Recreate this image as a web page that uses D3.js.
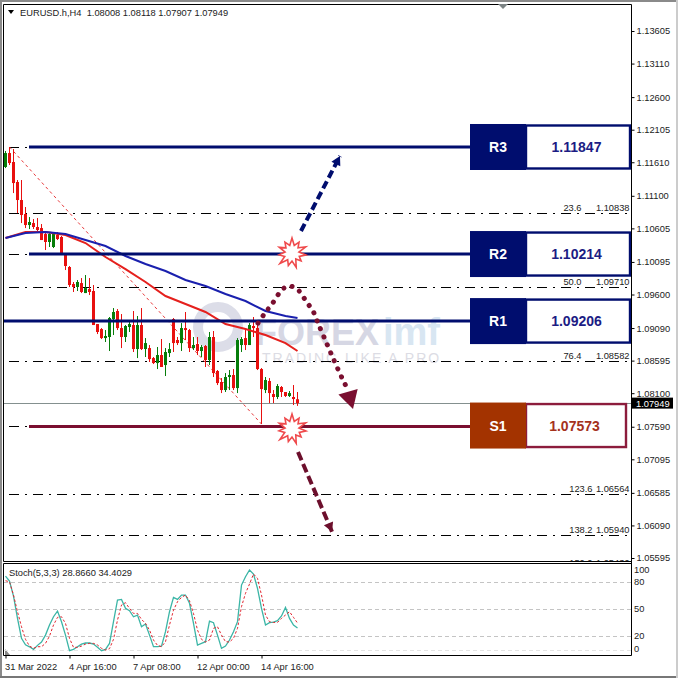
<!DOCTYPE html>
<html>
<head>
<meta charset="utf-8">
<style>
    html, body { margin: 0; padding: 0; background: #fff; overflow: hidden; }
    svg { display: block; }
    text { font-family: "Liberation Sans", Arial, sans-serif; }
</style>
<script src="https://cdn.jsdelivr.net/npm/d3@7"></script>
</head>
<body>
<div class="chart"></div>
<script>
// candles
let opens = [1.11538,1.11750,1.11614,1.11310,1.11036,1.10823,1.10656,1.10686,1.10626,1.10610,1.10519,1.10398,1.10322,1.10504,1.10474,1.10215,1.10018,1.09759,1.09714,1.09774,1.09622,1.09683,1.09653,1.09151,1.09075,1.08938,1.08954,1.09227,1.09349,1.09090,1.08954,1.09106,1.09136,1.08771,1.09136,1.08771,1.08786,1.08634,1.08558,1.08680,1.08528,1.08710,1.09227,1.08908,1.08862,1.09090,1.09060,1.08786,1.08847,1.08741,1.08817,1.08604,1.08954,1.08437,1.08270,1.08148,1.08346,1.08376,1.08178,1.08832,1.08938,1.08832,1.09121,1.09090,1.08467,1.08148,1.08285,1.08087,1.08042,1.08194,1.08118,1.08057,1.08042,1.08008]
let highs = [1.11781,1.11842,1.11811,1.11340,1.11340,1.10930,1.10777,1.10747,1.10762,1.10671,1.10550,1.10534,1.10550,1.10550,1.10489,1.10230,1.10033,1.09790,1.09820,1.09850,1.09896,1.09850,1.09744,1.09151,1.09090,1.09060,1.09258,1.09394,1.09379,1.09303,1.09136,1.09212,1.09349,1.09273,1.09394,1.08938,1.08832,1.08650,1.08802,1.08923,1.08786,1.08862,1.09242,1.08954,1.09166,1.09334,1.09075,1.08954,1.08954,1.08832,1.08832,1.09030,1.09045,1.08452,1.08330,1.08406,1.08452,1.08467,1.08938,1.08954,1.09060,1.09166,1.09258,1.09166,1.08482,1.08346,1.08330,1.08148,1.08239,1.08209,1.08118,1.08133,1.08224,1.08118]
let lows = [1.11522,1.11568,1.11142,1.10838,1.10686,1.10610,1.10595,1.10595,1.10550,1.10428,1.10276,1.10322,1.10306,1.10428,1.10200,1.09972,1.09714,1.09638,1.09653,1.09622,1.09622,1.09592,1.09136,1.08999,1.08923,1.08878,1.08741,1.08984,1.09060,1.08786,1.08878,1.09030,1.08726,1.08634,1.08756,1.08650,1.08574,1.08543,1.08467,1.08498,1.08361,1.08650,1.08726,1.08832,1.08741,1.08908,1.08726,1.08756,1.08680,1.08650,1.08498,1.08528,1.08346,1.08224,1.08102,1.08118,1.08148,1.08148,1.08102,1.08726,1.08756,1.08832,1.08954,1.08452,1.07631,1.08102,1.07950,1.07950,1.08011,1.08042,1.08042,1.08042,1.07920,1.07907]
let closes = [1.11750,1.11598,1.11294,1.11036,1.10808,1.10656,1.10702,1.10626,1.10580,1.10428,1.10398,1.10519,1.10519,1.10443,1.10215,1.10033,1.09744,1.09714,1.09790,1.09638,1.09698,1.09638,1.09136,1.09030,1.08938,1.08969,1.09242,1.09334,1.09090,1.08954,1.09121,1.09151,1.08771,1.09136,1.08771,1.08862,1.08619,1.08558,1.08680,1.08498,1.08726,1.08771,1.08862,1.08862,1.09090,1.09060,1.08786,1.08832,1.08741,1.08802,1.08604,1.08954,1.08406,1.08254,1.08148,1.08346,1.08376,1.08178,1.08908,1.08923,1.08832,1.09136,1.09090,1.08467,1.08163,1.08300,1.08102,1.08042,1.08209,1.08118,1.08057,1.08102,1.08011,1.07949]

// moving averages
let maBars = [0,5,10,15,20,25,30,35,40,45,50,55,60,65,70,73]
let redMa = [1.10458,1.10550,1.10550,1.10504,1.10382,1.10170,1.09987,1.09790,1.09577,1.09455,1.09334,1.09151,1.09075,1.08984,1.08862,1.08741]
let blueMa = [1.10458,1.10534,1.10550,1.10519,1.10428,1.10337,1.10185,1.10063,1.09957,1.09820,1.09729,1.09607,1.09501,1.09349,1.09273,1.09242]

// stochastic
let stochMain = [86.6,81,64.4,39.6,17.4,10.3,8,5.1,9.6,13.3,21,32.2,41.4,47.7,35.9,21,3.7,5.1,8,11,12.2,12.2,11,7.4,3.7,5.1,11.8,35.9,60,60.7,50.7,48.1,41.4,43.3,30.3,33.3,21,8.1,8.1,8.8,24.8,47,62.9,60.7,65.5,65.5,56.3,34,10,11.8,13.7,36.6,34.8,21,6.3,8.8,15.5,24.8,35.9,76.6,85.9,93.3,88.9,72.9,50.7,32.2,34.8,35.5,37,42.2,51.8,39.6,32.2,28.9]
let stochSignal = [81.4,80.3,65.5,47,30.3,16.3,8.8,6.3,8.1,8.1,11.8,19.9,32.2,40.7,41.4,34,17.4,7.4,7.4,8.8,11,11.8,11.8,10,6.3,4.4,5.9,16.3,37.7,54.4,57,50.7,45.1,45.1,38.5,34,26.6,15.5,9.6,8.1,13.7,32.2,48.8,58.1,62.9,65.5,59.2,45.1,26.6,16.3,13.3,15.5,28.5,30.3,21,13.7,13.3,17.4,28.5,52.6,67.4,77.7,88.9,84,65.5,43.3,35.9,35.1,35.1,39.6,43.3,47,40.7,34.4]
let stochTicks = [100,80,50,20,0]
let stochGrid = [80,50,20,0]

// axis labels
let priceTicks = [1.13605,1.13110,1.12600,1.12105,1.11610,1.11100,1.10605,1.10095,1.09600,1.09090,1.08595,1.08100,1.07590,1.07095,1.06585,1.06090,1.05595]
let dateBars = [0,16,32,48,64]
let dateLabels = ["31 Mar 2022","4 Apr 16:00","7 Apr 08:00","12 Apr 00:00","14 Apr 16:00"]

// fibonacci levels
let fibNames = ["0.0","23.6","38.2","50.0","61.8","76.4","100.0","123.6","138.2","150.0"]
let fibPrices = [1.11847,1.10838,1.10214,1.09710,1.09206,1.08582,1.07600,1.06564,1.05940,1.05436]
let fibLabelled = ["23.6","50.0","76.4","123.6","138.2","150.0"]

// pivot boxes
let levelNames = ["R3","R2","R1","S1"]
let levelValues = ["1.11847","1.10214","1.09206","1.07573"]
let levelLines = [1.11842,1.10215,1.09196,1.07593]
let levelStartBars = [6,6,-1,6]
let lastPrice = 1.07949

// hand drawn arrows, [bar, price]
let blueArrow = [[74,1.10565],[83.75,1.11705]]
let maroonArrow = [[73.25,1.07206],[81.75,1.05995]]
let dottedArrow = [[63.25,1.09166],[65,1.09318],[66.75,1.09455],[69,1.09653],[70.75,1.09729],[73,1.09683],[75.25,1.09501],[77.25,1.09318],[78.25,1.09166],[79.75,1.08954],[82,1.08634],[84.5,1.08300],[85.5,1.08178]]
let dottedTip = [87,1.07859]
let bursts = [[71.75,1.10230],[71.75,1.07555]]
let trendLine = [[1,1.11842],[64,1.07631]]

let width = 678, height = 678
let plotLeft = 4, plotRight = 631, plotTop = 4, mainBottom = 561, stochTop = 563, stochBottom = 655

let navy = "#000d6e", maroon = "#7a0f30", green = "#067d0a", red = "#e8100f"

let svg = d3.select(".chart")
    .append("svg")
    .attr("width", width)
    .attr("height", height)

let x = d3.scaleLinear().domain([0, 73]).range([5, 297])
let y = d3.scaleLinear().domain([1.05595, 1.13605]).range([558, 31])
let yStoch = d3.scaleLinear().domain([0, 100]).range([654, 564])

let defs = svg.append("defs")
defs.append("clipPath").attr("id", "main-clip")
    .append("rect")
    .attr("x", plotLeft).attr("y", plotTop)
    .attr("width", plotRight - plotLeft).attr("height", mainBottom - plotTop)

// window edge
svg.append("path")
    .attr("d", `M1,${height} V1 H${width}`)
    .attr("fill", "none").attr("stroke", "#8a8a8a").attr("stroke-width", 2)
svg.append("path")
    .attr("d", `M0,${height - 1} H${width}`)
    .attr("stroke", "#777").attr("stroke-width", 2)
svg.append("path")
    .attr("d", `M${width - 1},0 V${height}`)
    .attr("stroke", "#ccc").attr("stroke-width", 2)

let main = svg.append("g").attr("clip-path", "url(#main-clip)")

// watermark
let mark = main.append("g")
mark.append("circle")
    .attr("cx", x(53.25)).attr("cy", y(1.09106))
    .attr("r", 20)
    .attr("fill", "none").attr("stroke", "#dcdde8").attr("stroke-width", 10)
mark.append("text")
    .attr("x", x(62.5)).attr("y", y(1.08832))
    .attr("font-size", 36).attr("font-weight", 700)
    .attr("fill", "#d6d7e4")
    .text("FOREX")
mark.append("text")
    .attr("x", x(94.5)).attr("y", y(1.08832))
    .attr("font-size", 38).attr("font-weight", 700)
    .attr("fill", "#d8e6f2")
    .text("imf")
mark.append("text")
    .attr("x", x(64.25)).attr("y", y(1.08558))
    .attr("font-size", 14)
    .attr("letter-spacing", 2)
    .attr("fill", "#dcdce4")
    .text("TRADING LIKE A PRO")

// fib levels
main.append("g")
    .selectAll("path")
    .data(fibPrices)
    .enter()
    .append("path")
    .attr("d", (d) => `M${x(1)},${Math.round(y(d)) + 0.5} H${plotRight}`)
    .attr("stroke", "#000")
    .attr("stroke-width", 1)
    .attr("stroke-dasharray", "10 6 2 6")

let fibText = main.append("g")
    .attr("font-size", 9.3)
    .attr("fill", "#222")
fibNames.forEach((name, i) => {
    if (fibLabelled.indexOf(name) < 0) return
    let ty = y(fibPrices[i]) - 2.5
    fibText.append("text")
        .attr("x", name.length > 4 ? 592.5 : 581.5)
        .attr("y", ty)
        .attr("text-anchor", "end")
        .text(name)
    fibText.append("text")
        .attr("x", 629.5)
        .attr("y", ty)
        .attr("text-anchor", "end")
        .text(fibPrices[i].toFixed(5))
})

// last price line
main.append("path")
    .attr("d", `M${plotLeft},${Math.round(y(lastPrice)) + 0.5} H${plotRight}`)
    .attr("stroke", "#84908f")
    .attr("stroke-width", 1)

// trend line of the fib tool
main.append("path")
    .attr("d", d3.line().x((d) => x(d[0]) + 0.5).y((d) => y(d[1]))(trendLine))
    .attr("stroke", "#e8383a")
    .attr("stroke-width", 1)
    .attr("stroke-dasharray", "3 3")

// candles
let bars = closes.map((c, i) => ({ i: i, o: opens[i], h: highs[i], l: lows[i], c: c }))
let candle = main.append("g")
    .selectAll("g")
    .data(bars)
    .enter()
    .append("g")
    .attr("fill", (d) => d.c >= d.o ? green : red)
candle.append("rect")
    .attr("x", (d) => x(d.i))
    .attr("y", (d) => y(d.h))
    .attr("width", 1)
    .attr("height", (d) => y(d.l) - y(d.h))
candle.append("rect")
    .attr("x", (d) => x(d.i) - 1)
    .attr("y", (d) => y(Math.max(d.o, d.c)))
    .attr("width", 3)
    .attr("height", (d) => Math.max(1, Math.abs(y(d.o) - y(d.c))))

// moving averages
let maLine = d3.line().x((d, i) => x(maBars[i]) + 0.5).y((d) => y(d))
main.append("path")
    .attr("d", maLine(redMa))
    .attr("fill", "none").attr("stroke", "#e5201d").attr("stroke-width", 2)
main.append("path")
    .attr("d", maLine(blueMa))
    .attr("fill", "none").attr("stroke", "#1a20ae").attr("stroke-width", 2)

// level lines
levelLines.forEach((p, i) => {
    main.append("path")
        .attr("d", `M${i == 2 ? plotLeft : x(levelStartBars[i])},${y(p)} H470`)
        .attr("stroke", i == 3 ? maroon : navy)
        .attr("stroke-width", 3)
})

// arrows
let arrowLine = d3.line().x((d) => x(d[0])).y((d) => y(d[1]))
function arrowHead(from, tip, len, half, color) {
    let ax = x(from[0]), ay = y(from[1]), bx = x(tip[0]), by = y(tip[1])
    let a = Math.atan2(by - ay, bx - ax)
    let cx = bx - len * Math.cos(a), cy = by - len * Math.sin(a)
    let nx = -Math.sin(a) * half, ny = Math.cos(a) * half
    main.append("path")
        .attr("d", `M${bx},${by} L${cx + nx},${cy + ny} L${cx - nx},${cy - ny} Z`)
        .attr("fill", color)
}
main.append("path")
    .attr("d", arrowLine(blueArrow))
    .attr("stroke", navy).attr("stroke-width", 4)
    .attr("stroke-dasharray", "8 4")
arrowHead(blueArrow[0], blueArrow[1], 9, 5, navy)
main.append("path")
    .attr("d", arrowLine(maroonArrow))
    .attr("stroke", "#6c0f2c").attr("stroke-width", 4)
    .attr("stroke-dasharray", "9 4")
arrowHead(maroonArrow[0], maroonArrow[1], 9, 5, "#6c0f2c")
main.append("path")
    .attr("d", arrowLine.curve(d3.curveCatmullRom)(dottedArrow))
    .attr("fill", "none")
    .attr("stroke", maroon).attr("stroke-width", 5)
    .attr("stroke-linecap", "round")
    .attr("stroke-dasharray", "0.1 8.6")
arrowHead(dottedArrow[dottedArrow.length - 1], dottedTip, 18, 10, maroon)

// bursts
let burstRadii = [15, 8, 13, 8, 15, 7, 14, 8, 12, 7, 15, 8, 13, 8, 16, 8, 13, 7, 14, 8, 13, 8]
let burstPath = d3.lineRadial()
    .angle((d, i) => i / burstRadii.length * 2 * Math.PI)
    .radius((d) => d)
    .curve(d3.curveLinearClosed)
main.append("g")
    .selectAll("path")
    .data(bursts)
    .enter()
    .append("path")
    .attr("transform", (d) => `translate(${x(d[0])},${y(d[1])})`)
    .attr("d", burstPath(burstRadii))
    .attr("fill", "#fff")
    .attr("stroke", "#ef4a4c")
    .attr("stroke-width", 1.6)

// level boxes
let boxH = 44
levelNames.forEach((name, i) => {
    let isS = name == "S1"
    let cy = y(levelLines[i]) - (isS ? 1 : 0)
    let boxRight = isS ? 627 : 631
    let line = isS ? "#8c1c3c" : navy
    svg.append("rect")
        .attr("x", 526).attr("y", cy - 21.5)
        .attr("width", boxRight - 527).attr("height", boxH - 1)
        .attr("fill", "#fff")
        .attr("stroke", line).attr("stroke-width", 2.4)
    svg.append("rect")
        .attr("x", 470).attr("y", cy - 23)
        .attr("width", 56).attr("height", 46)
        .attr("fill", isS ? "#a33300" : navy)
    svg.append("text")
        .attr("x", 498).attr("y", cy + 5)
        .attr("text-anchor", "middle")
        .attr("font-size", 14).attr("font-weight", 700)
        .attr("fill", "#fff")
        .text(name)
    svg.append("text")
        .attr("x", isS ? 574.5 : 576.5).attr("y", cy + 5)
        .attr("text-anchor", "middle")
        .attr("font-size", 14).attr("font-weight", 700)
        .attr("fill", isS ? "#a5321c" : "#1c1c84")
        .text(levelValues[i])
})

// frame
svg.append("path")
    .attr("d", `M${plotLeft - 0.5},${mainBottom + 0.5} V${plotTop + 0.5} H${plotRight + 0.5} V${stochBottom + 0.5} H${plotLeft - 0.5} V${stochTop + 0.5} H${plotRight + 0.5} M${plotLeft - 0.5},${mainBottom + 0.5} H${plotRight + 0.5}`)
    .attr("fill", "none")
    .attr("stroke", "#000")
    .attr("stroke-width", 1)

// price axis
let priceAxis = svg.append("g")
    .attr("transform", `translate(${plotRight + 0.5},0)`)
    .call(d3.axisRight(y).tickValues(priceTicks).tickSize(3).tickPadding(2).tickFormat((d) => d.toFixed(5)))
priceAxis.select(".domain").remove()
priceAxis.selectAll("text")
    .attr("font-family", "Liberation Sans")
    .attr("font-size", 9.3)
    .attr("fill", "#222")

// last price tag
svg.append("rect")
    .attr("x", plotRight + 1).attr("y", y(lastPrice) - 5.5)
    .attr("width", 41).attr("height", 11)
    .attr("fill", "#000")
svg.append("text")
    .attr("x", plotRight + 5).attr("y", y(lastPrice) + 3.5)
    .attr("font-size", 9.3)
    .attr("fill", "#fff")
    .text(lastPrice.toFixed(5))

// small window markers
svg.append("path").attr("d", "M498,4 H508 L503,9 Z").attr("fill", "#7c8384")
svg.append("path").attr("d", `M8,10 H14 L11,14 Z`).attr("fill", "#000")
svg.append("path").attr("d", `M5,${stochBottom - 6} V${stochBottom} H10 Z`).attr("fill", "#888")

svg.append("text")
    .attr("x", 20).attr("y", 16)
    .attr("font-size", 9.3)
    .attr("fill", "#222")
    .attr("xml:space", "preserve")
    .text("EURUSD.h,H4  1.08008 1.08118 1.07907 1.07949")

// stochastic panel
svg.append("g")
    .selectAll("path")
    .data(stochGrid)
    .enter()
    .append("path")
    .attr("d", (d) => `M${plotLeft},${Math.round(Math.min(yStoch(d), 650)) + 0.5} H${plotRight}`)
    .attr("stroke", (d) => d == 0 ? "#e4e4e4" : "#c4c4c4")
    .attr("stroke-dasharray", "4 3")

let stochLine = d3.line().x((d, i) => x(i) + 0.5).y((d) => yStoch(d))
svg.append("path")
    .attr("d", stochLine(stochMain))
    .attr("fill", "none").attr("stroke", "#3bb5a6").attr("stroke-width", 1.3)
svg.append("path")
    .attr("d", stochLine(stochSignal))
    .attr("fill", "none").attr("stroke", "#e2252f").attr("stroke-width", 1)
    .attr("stroke-dasharray", "2.5 2")

svg.append("text")
    .attr("x", 9).attr("y", 576)
    .attr("font-size", 9.3)
    .attr("fill", "#222")
    .text("Stoch(5,3,3) 28.8660 34.4029")

svg.append("g")
    .selectAll("text")
    .data(stochTicks)
    .enter()
    .append("text")
    .attr("x", 634)
    .attr("y", (d) => Math.max(573, Math.min(yStoch(d) + 3, 652)))
    .attr("font-size", 9.3)
    .attr("fill", "#222")
    .text((d) => d)

// date axis
let dateAxis = svg.append("g")
    .attr("transform", `translate(0.5,${stochBottom + 0.5})`)
    .call(d3.axisBottom(x).tickValues(dateBars).tickSize(3).tickPadding(5).tickFormat((d, i) => dateLabels[i]))
dateAxis.select(".domain").remove()
dateAxis.selectAll("text")
    .attr("text-anchor", "start")
    .attr("font-family", "Liberation Sans")
    .attr("font-size", 9.3)
    .attr("fill", "#222")
    .attr("dx", -1)
</script>
</body>
</html>
